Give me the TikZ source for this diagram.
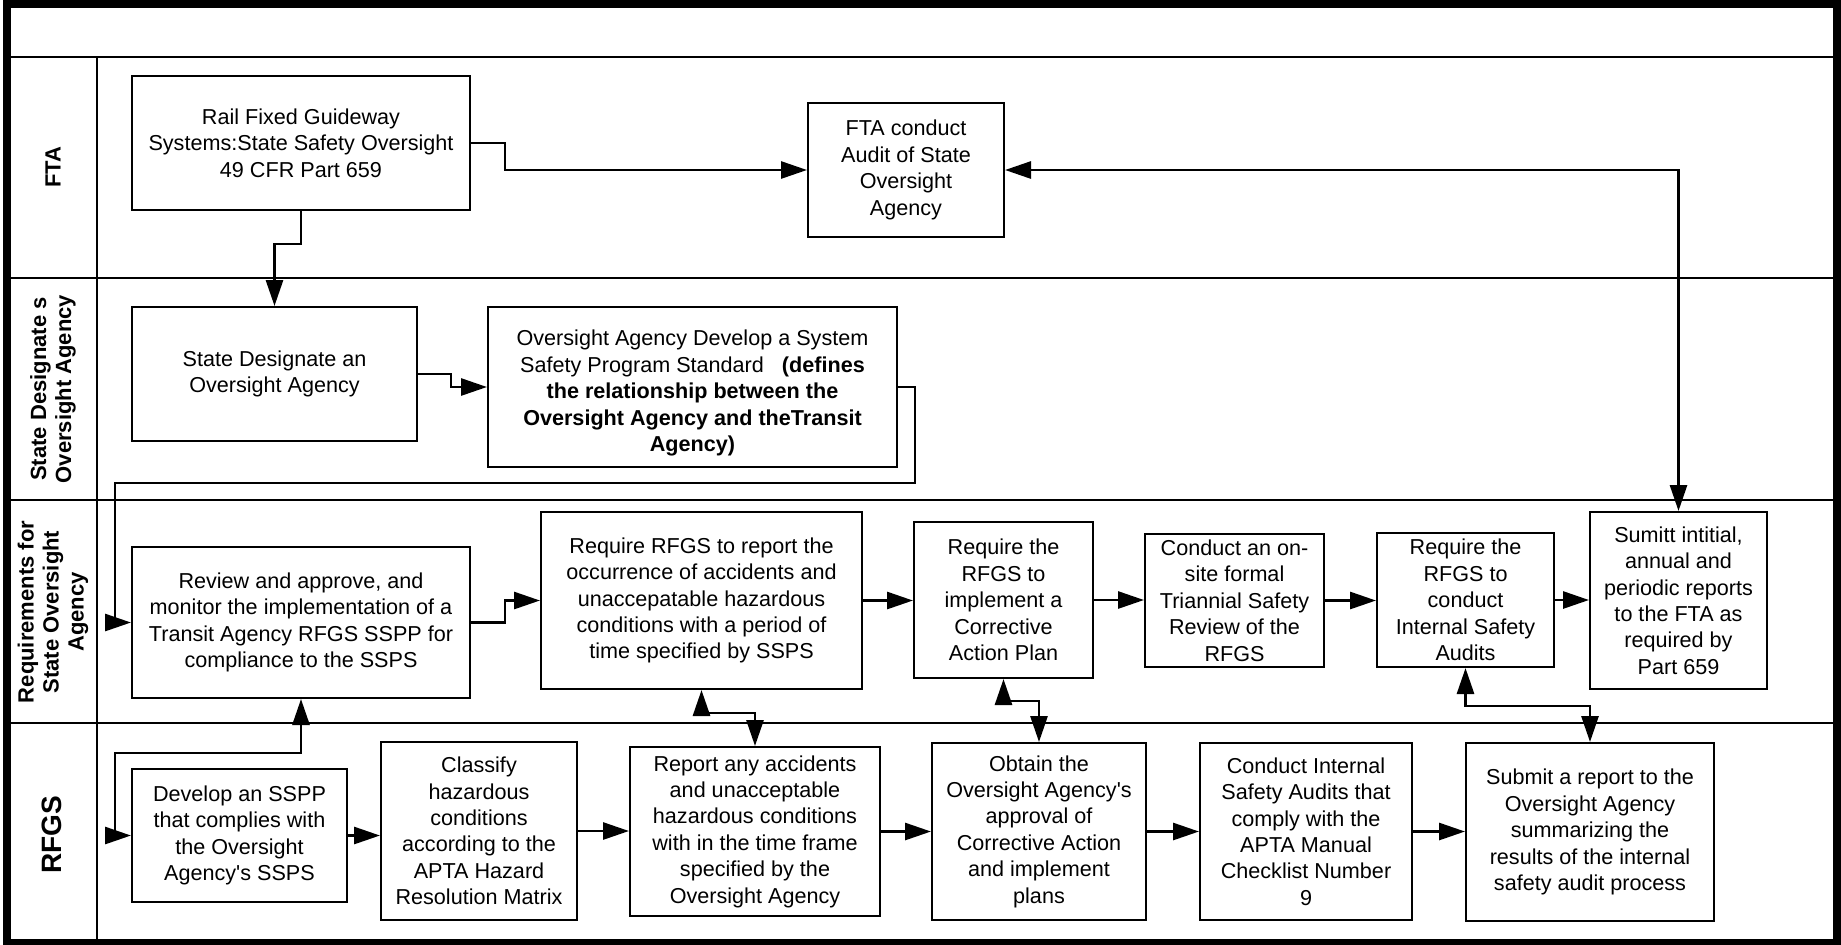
\documentclass[tikz,border=0pt]{standalone}
\usepackage{fontspec}
\setmainfont{Liberation Sans}
\usetikzlibrary{arrows.meta,calc}
\begin{document}
\begin{tikzpicture}[x=0.5pt,y=-0.5pt,
  box/.style={draw, line width=1pt, inner sep=1pt, align=center, font=\fontsize{10.8}{13.2}\selectfont},
  tipa/.tip={Triangle[length=13pt,width=8.5pt]},
  conn/.style={line width=1.4pt, -tipa},
  bconn/.style={line width=1.4pt, tipa-tipa},
  lane/.style={line width=1.4pt},
  lanelabel/.style={rotate=90, align=center, font=\bfseries\fontsize{11}{12.5}\selectfont}]

\useasboundingbox (0,0) rectangle (1841,944);

% swimlane grid
\draw[lane] (7,57) -- (1837,57);
\draw[lane] (7,278) -- (1837,278);
\draw[lane] (7,500) -- (1837,500);
\draw[lane] (7,723) -- (1837,723);
\draw[lane] (97,57) -- (97,943);
\draw[line width=4pt] (7,4) rectangle (1837,943);

% lane labels
\node[lanelabel] (lFTA) at (53,167) {FTA};
\node[lanelabel] (lState) at (53,389) {State Designate s\\Oversight Agency};
\node[lanelabel] (lReq) at (53,612) {Requirements for\\State Oversight\\Agency};
\node[lanelabel, font=\bfseries\fontsize{14}{16}\selectfont] (lRFGS) at (52,835) {RFGS};

% FTA lane
\node[box, minimum width=169pt, minimum height=67pt] (rail) at (301,143)
  {Rail Fixed Guideway\\Systems:State Safety Oversight\\49 CFR Part 659};
\node[box, minimum width=98pt, minimum height=67pt] (audit) at (906,170)
  {FTA conduct\\Audit of State\\Oversight\\Agency};

% State lane
\node[box, minimum width=142.5pt, minimum height=67pt] (desig) at (274.5,374)
  {State Designate an\\Oversight Agency};
\node[box, minimum width=204.5pt, minimum height=80pt] (ossp) at (692.5,387)
  {\rule{0pt}{14pt}Oversight Agency Develop a System\\Safety Program Standard\ \ \ \textbf{(defines}\\\textbf{the relationship between the}\\\textbf{Oversight Agency and theTransit}\\\textbf{Agency)}};

% Requirements lane
\node[box, minimum width=169pt, minimum height=75.5pt] (review) at (301,622.5)
  {Review and approve, and\\monitor the implementation of a\\Transit Agency RFGS SSPP for\\compliance to the SSPS};
\node[box, minimum width=160.5pt, minimum height=88.5pt] (reqrep) at (701.5,600.5)
  {Require RFGS to report the\\occurrence of accidents and\\unaccepatable hazardous\\conditions with a period of\\time specified by SSPS};
\node[box, minimum width=89.5pt, minimum height=78pt] (reqcap) at (1003.5,600)
  {Require the\\RFGS to\\implement a\\Corrective\\Action Plan};
\node[box, minimum width=89.5pt, minimum height=66.5pt] (onsite) at (1234.5,600.5)
  {Conduct an on-\\site formal\\Triannial Safety\\Review of the\\RFGS};
\node[box, minimum width=88.5pt, minimum height=67pt] (reqaud) at (1465.5,600)
  {Require the\\RFGS to\\conduct\\Internal Safety\\Audits};
\node[box, minimum width=88.5pt, minimum height=88.5pt] (sumitt) at (1678.5,600.5)
  {Sumitt intitial,\\annual and\\periodic reports\\to the FTA as\\required by\\Part 659};

% RFGS lane
\node[box, minimum width=107.5pt, minimum height=66.5pt] (develop) at (239.5,835.5)
  {Develop an SSPP\\that complies with\\the Oversight\\Agency{\textquotesingle}s SSPS};
\node[box, minimum width=98pt, minimum height=89pt] (classify) at (479,831)
  {Classify\\hazardous\\conditions\\according to the\\APTA Hazard\\Resolution Matrix};
\node[box, minimum width=125pt, minimum height=84.5pt] (reportacc) at (755,831.5)
  {Report any accidents\\and unacceptable\\hazardous conditions\\with in the time frame\\specified by the\\Oversight Agency};
\node[box, minimum width=107pt, minimum height=88.5pt] (obtain) at (1039,831.5)
  {Obtain the\\Oversight Agency{\textquotesingle}s\\approval of\\Corrective Action\\and implement\\plans};
\node[box, minimum width=106pt, minimum height=88.5pt] (isa) at (1306,831.5)
  {Conduct Internal\\Safety Audits that\\comply with the\\APTA Manual\\Checklist Number\\9};
\node[box, minimum width=124pt, minimum height=89pt] (submit) at (1590,832)
  {Submit a report to the\\Oversight Agency\\summarizing the\\results of the internal\\safety audit process};

% connectors
\draw[conn] (rail.east) -- ++(34,0) |- (audit.west);
\draw[conn] (rail.south) -- ++(0,33) -| (desig.north);
\draw[bconn] (audit.east) -| (sumitt.north);
\draw[conn] (desig.east) -- ++(33,0) |- (ossp.west);
\draw[conn] (ossp.east) -- ++(17,0) -- ++(0,96) -| ($(review.west)+(-16,0)$) -- (review.west);
\draw[conn] (review.east) -- ++(34,0) |- (reqrep.west);
\draw[conn] (reqrep.east) -- (reqrep.east -| reqcap.west);
\draw[conn] (reqcap.east) -- (reqcap.east -| onsite.west);
\draw[conn] (onsite.east) -- (onsite.east -| reqaud.west);
\draw[conn] (reqaud.east) -- (reqaud.east -| sumitt.west);
\draw[bconn] (review.south) -- ++(0,54) -| ($(develop.west)+(-16,0)$) -- (develop.west);
\draw[conn] (develop.east) -- (develop.east -| classify.west);
\draw[conn] (classify.east) -- (classify.east -| reportacc.west);
\draw[conn] (reportacc.east) -- (reportacc.east -| obtain.west);
\draw[conn] (obtain.east) -- (obtain.east -| isa.west);
\draw[conn] (isa.east) -- (isa.east -| submit.west);
\draw[bconn] (reqrep.south) -- ++(0,23) -| (reportacc.north);
\draw[bconn] (reqcap.south) -- ++(0,22) -| (obtain.north);
\draw[bconn] (reqaud.south) -- ++(0,38) -| (submit.north);
\end{tikzpicture}
\end{document}
